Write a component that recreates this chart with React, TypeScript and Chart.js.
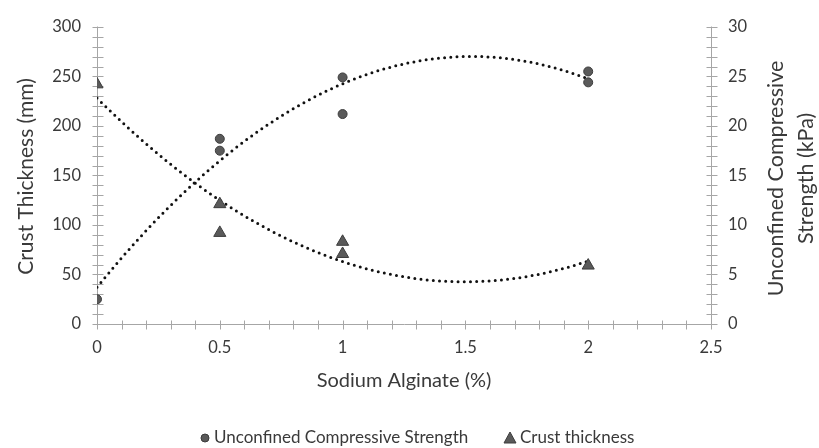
import React, { useEffect, useRef } from "react";
import { Chart, registerables } from "chart.js";
Chart.register(...registerables);

// ---- data ----
const ucsX = [0, 0.5, 0.5, 1, 1, 2, 2]; // Sodium Alginate (%)
const ucsValues = [2.5, 18.7, 17.5, 24.9, 21.2, 25.5, 24.4]; // kPa
const crustX = [0, 0.5, 0.5, 1, 1, 2]; // Sodium Alginate (%)
const crustValues = [242, 121, 92, 83, 70.7, 59]; // mm

const xTicks = [0, 0.5, 1, 1.5, 2, 2.5];
const leftTicks = [0, 50, 100, 150, 200, 250, 300];
const rightTicks = [0, 5, 10, 15, 20, 25, 30];

const xTitle = "Sodium Alginate (%)";
const leftTitle = "Crust Thickness (mm)";
const rightTitle = ["Unconfined Compressive", "Strength (kPa)"];
const legendLabels = ["Unconfined Compressive Strength", "Crust thickness"];

// ---- order-2 polynomial least-squares trendline (as in the original) ----
function quadFit(xs: number[], ys: number[]) {
  let s0 = 0, s1 = 0, s2 = 0, s3 = 0, s4 = 0, t0 = 0, t1 = 0, t2 = 0;
  xs.forEach((x, i) => {
    const y = ys[i];
    s0 += 1; s1 += x; s2 += x * x; s3 += x * x * x; s4 += x * x * x * x;
    t0 += y; t1 += x * y; t2 += x * x * y;
  });
  const m = [
    [s0, s1, s2, t0],
    [s1, s2, s3, t1],
    [s2, s3, s4, t2],
  ];
  for (let c = 0; c < 3; c++) {
    for (let r = c + 1; r < 3; r++) {
      const f = m[r][c] / m[c][c];
      for (let k = c; k < 4; k++) m[r][k] -= f * m[c][k];
    }
  }
  const coef = [0, 0, 0];
  for (let r = 2; r >= 0; r--) {
    let s = m[r][3];
    for (let k = r + 1; k < 3; k++) s -= m[r][k] * coef[k];
    coef[r] = s / m[r][r];
  }
  return (x: number) => coef[0] + coef[1] * x + coef[2] * x * x;
}

function trend(xs: number[], ys: number[]) {
  const f = quadFit(xs, ys);
  const lo = Math.min(...xs), hi = Math.max(...xs);
  const pts: { x: number; y: number }[] = [];
  const n = 120;
  for (let i = 0; i <= n; i++) {
    const x = lo + ((hi - lo) * i) / n;
    pts.push({ x, y: f(x) });
  }
  return pts;
}

const FONT = "Lato, 'Noto Sans', sans-serif";
const TEXT = "#3a3a3a";
const AXIS = "#a6a6a6";
const MARK_FILL = "#5a5a5a";
const MARK_EDGE = "#3c3c3c";

const decoPlugin = {
  id: "deco",
  beforeDatasetsDraw(chart: any) {
    const { ctx, chartArea, scales } = chart;
    const { left, right, top, bottom } = chartArea;
    const lx = Math.floor(left) + 0.5;
    const rx = Math.floor(right) + 0.5;
    const by = Math.floor(bottom) + 0.5;
    ctx.save();
    ctx.strokeStyle = AXIS;
    ctx.lineWidth = 1;
    ctx.beginPath();
    ctx.moveTo(lx, Math.floor(top) + 0.5);
    ctx.lineTo(lx, by);
    ctx.moveTo(rx, Math.floor(top) + 0.5);
    ctx.lineTo(rx, by);
    ctx.moveTo(lx, by);
    ctx.lineTo(rx, by);
    // left axis ticks (major + minor every 10)
    for (let i = 0; i <= 30; i++) {
      const py = Math.round(scales.y.getPixelForValue(i * 10)) + 0.5;
      ctx.moveTo(lx - 5, py);
      ctx.lineTo(lx + 6, py);
    }
    // right axis ticks (every 1)
    for (let i = 0; i <= 30; i++) {
      const py = Math.round(scales.y1.getPixelForValue(i)) + 0.5;
      ctx.moveTo(rx - 5, py);
      ctx.lineTo(rx + 6, py);
    }
    // x axis ticks (every 0.1)
    for (let i = 0; i <= 25; i++) {
      const px = Math.round(scales.x.getPixelForValue(i / 10)) + 0.5;
      ctx.moveTo(px, by - 4);
      ctx.lineTo(px, by + 5);
    }
    ctx.stroke();
    ctx.restore();
  },
  afterDraw(chart: any) {
    const { ctx, chartArea } = chart;
    const { left, right, top, bottom } = chartArea;
    const midY = (top + bottom) / 2;
    ctx.save();
    ctx.fillStyle = TEXT;
    ctx.textAlign = "center";
    ctx.textBaseline = "middle";
    ctx.font = `21px ${FONT}`;
    // left title
    ctx.save();
    ctx.translate(26, midY + 1);
    ctx.rotate(-Math.PI / 2);
    ctx.fillText(leftTitle, 0, 0);
    ctx.restore();
    // right title (two lines, reading bottom to top)
    ctx.save();
    ctx.translate(776, midY + 3);
    ctx.rotate(-Math.PI / 2);
    ctx.font = `21.5px ${FONT}`;
    rightTitle.forEach((t, i) => ctx.fillText(t, 0, i * 30));
    ctx.restore();
    // x title
    ctx.font = `20px ${FONT}`;
    ctx.fillText(xTitle, (left + right) / 2, 381);

    // legend
    const ly = 438;
    ctx.font = `17px ${FONT}`;
    ctx.textAlign = "left";
    ctx.fillStyle = MARK_FILL;
    ctx.strokeStyle = MARK_EDGE;
    ctx.lineWidth = 1;
    ctx.beginPath();
    ctx.arc(205, ly, 4, 0, Math.PI * 2);
    ctx.fill();
    ctx.stroke();
    ctx.fillStyle = TEXT;
    ctx.fillText(legendLabels[0], 214, ly);
    ctx.fillStyle = MARK_FILL;
    ctx.beginPath();
    ctx.moveTo(510, ly - 6);
    ctx.lineTo(516, ly + 5);
    ctx.lineTo(504, ly + 5);
    ctx.closePath();
    ctx.fill();
    ctx.stroke();
    ctx.fillStyle = TEXT;
    ctx.fillText(legendLabels[1], 520, ly);
    ctx.restore();
  },
};

export default function App() {
  const ref = useRef<HTMLCanvasElement | null>(null);
  useEffect(() => {
    if (!ref.current) return;
    const ucsPts = ucsX.map((x, i) => ({ x, y: ucsValues[i] }));
    const crustPts = crustX.map((x, i) => ({ x, y: crustValues[i] }));
    const chart = new Chart(ref.current, {
      type: "scatter",
      data: {
        datasets: [
          {
            label: legendLabels[0],
            data: ucsPts,
            yAxisID: "y1",
            pointStyle: "circle",
            pointRadius: 4.5,
            backgroundColor: MARK_FILL,
            borderColor: MARK_EDGE,
            borderWidth: 1,
            order: 1,
          },
          {
            label: legendLabels[1],
            data: crustPts,
            yAxisID: "y",
            pointStyle: "triangle",
            pointRadius: 7,
            backgroundColor: MARK_FILL,
            borderColor: MARK_EDGE,
            borderWidth: 1,
            order: 1,
          },
          {
            type: "line",
            label: "ucs trend",
            data: trend(ucsX, ucsValues),
            yAxisID: "y1",
            showLine: true,
            pointRadius: 0,
            borderColor: "#111111",
            borderWidth: 3,
            borderDash: [0, 6.2],
            borderCapStyle: "round",
            fill: false,
            tension: 0,
            order: 2,
          },
          {
            type: "line",
            label: "crust trend",
            data: trend(crustX, crustValues),
            yAxisID: "y",
            showLine: true,
            pointRadius: 0,
            borderColor: "#111111",
            borderWidth: 3,
            borderDash: [0, 6.2],
            borderCapStyle: "round",
            fill: false,
            tension: 0,
            order: 2,
          },
        ] as any,
      },
      options: {
        animation: false,
        responsive: false,
        devicePixelRatio: 1,
        events: [],
        layout: { padding: { top: 24, left: 0, right: 0, bottom: 0 } },
        plugins: {
          legend: { display: false },
          tooltip: { enabled: false },
          title: { display: false },
        },
        scales: {
          x: {
            type: "linear",
            position: "bottom",
            min: 0,
            max: 2.5,
            grid: { display: false, drawTicks: false },
            border: { display: false },
            afterBuildTicks: (s: any) => {
              s.ticks = xTicks.map((v) => ({ value: v }));
            },
            afterFit: (s: any) => {
              s.height = 124;
            },
            ticks: {
              autoSkip: false,
              maxRotation: 0,
              padding: 14,
              color: TEXT,
              font: { family: FONT, size: 16.5 },
              callback: (v: any) => String(v),
            },
          },
          y: {
            type: "linear",
            position: "left",
            min: 0,
            max: 300,
            grid: { display: false, drawTicks: false },
            border: { display: false },
            afterBuildTicks: (s: any) => {
              s.ticks = leftTicks.map((v) => ({ value: v }));
            },
            afterFit: (s: any) => {
              s.width = 97;
            },
            ticks: {
              autoSkip: false,
              padding: 16,
              color: TEXT,
              font: { family: FONT, size: 16.5 },
              callback: (v: any) => String(v),
            },
          },
          y1: {
            type: "linear",
            position: "right",
            min: 0,
            max: 30,
            grid: { display: false, drawTicks: false },
            border: { display: false },
            afterBuildTicks: (s: any) => {
              s.ticks = rightTicks.map((v) => ({ value: v }));
            },
            afterFit: (s: any) => {
              s.width = 108;
            },
            ticks: {
              autoSkip: false,
              padding: 17,
              color: TEXT,
              font: { family: FONT, size: 16.5 },
              callback: (v: any) => String(v),
            },
          },
        },
      } as any,
      plugins: [decoPlugin],
    });
    return () => chart.destroy();
  }, []);

  return (
    <div style={{ position: "absolute", left: 0, top: 0, width: 819, height: 448, background: "#ffffff" }}>
      <canvas ref={ref} width={819} height={448} style={{ display: "block", width: 819, height: 448 }} />
    </div>
  );
}
